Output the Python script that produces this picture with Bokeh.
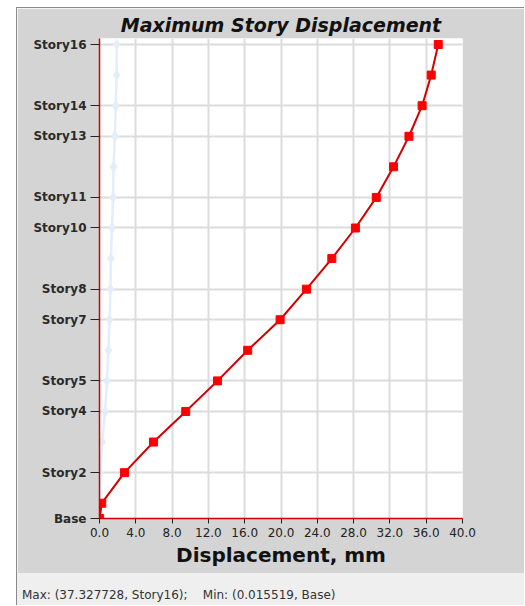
from bokeh.plotting import figure
from bokeh.models import FixedTicker, Div
from bokeh.layouts import column
from bokeh.embed import file_html
from bokeh.resources import INLINE

# ---- data ----
stories = ["Base", "Story1", "Story2", "Story3", "Story4", "Story5", "Story6", "Story7",
           "Story8", "Story9", "Story10", "Story11", "Story12", "Story13", "Story14",
           "Story15", "Story16"]
elevation = [0, 1.5, 4.5, 7.5, 10.5, 13.5, 16.5, 19.5, 22.5, 25.5, 28.5, 31.5,
             34.5, 37.5, 40.5, 43.5, 46.5]
disp_x = [0.015519, 0.25, 2.75, 5.95, 9.5, 13.0, 16.33, 19.9, 22.8, 25.6, 28.2,
          30.5, 32.4, 34.1, 35.55, 36.55, 37.327728]
disp_y = [0.0, 0.02, 0.1, 0.3, 0.62, 0.82, 0.98, 1.1, 1.2, 1.25, 1.38, 1.5, 1.55,
          1.7, 1.78, 1.88, 1.9]
label_stories = ["Base", "Story2", "Story4", "Story5", "Story7", "Story8", "Story10",
                 "Story11", "Story13", "Story14", "Story16"]
x_ticks = [0, 4, 8, 12, 16, 20, 24, 28, 32, 36, 40]
x_tick_labels = ["0.0", "4.0", "8.0", "12.0", "16.0", "20.0", "24.0", "28.0",
                 "32.0", "36.0", "40.0"]
title_text = "Maximum Story Displacement"
x_title = "Displacement, mm"
footer = "Max: (37.327728, Story16);&nbsp;&nbsp;&nbsp; Min: (0.015519, Base)"

GRAY = "#d4d4d4"
RED_LINE = "#d40000"
RED_MARK = "#ff0000"
LIGHT = "#e2effa"

y_ticks = [elevation[stories.index(s)] for s in label_stories]

p = figure(width=507, height=565, output_backend="svg", toolbar_location=None,
           x_range=(0, 40), y_range=(0, 47.09),
           min_border_left=82, min_border_right=62, min_border_top=30,
           min_border_bottom=55)
p.background_fill_color = "white"
p.border_fill_color = GRAY
p.outline_line_color = None
p.margin = 0

p.title.text = title_text
p.title.align = "center"
p.title.text_font = "DejaVu Sans"
p.title.text_font_size = "19px"
p.title.text_font_style = "bold italic"
p.title.text_color = "#111111"
p.title.standoff = 5

# axes
xa = p.xaxis[0]
xa.ticker = FixedTicker(ticks=x_ticks)
xa.major_label_overrides = {t: l for t, l in zip(x_ticks, x_tick_labels)}
xa.axis_line_color = RED_LINE
xa.axis_line_width = 1.5
xa.major_tick_line_color = "#222222"
xa.major_tick_out = 5
xa.major_tick_in = 0
xa.minor_tick_line_color = None
xa.major_label_text_font = "DejaVu Sans"
xa.major_label_text_font_size = "12px"
xa.major_label_text_color = "#222222"
xa.major_label_standoff = 4
xa.axis_label = x_title
xa.axis_label_text_font = "DejaVu Sans"
xa.axis_label_text_font_size = "20px"
xa.axis_label_text_font_style = "bold"
xa.axis_label_text_color = "#111111"
xa.axis_label_standoff = 3

ya = p.yaxis[0]
ya.ticker = FixedTicker(ticks=y_ticks)
ya.major_label_overrides = {t: l for t, l in zip(y_ticks, label_stories)}
ya.axis_line_color = RED_LINE
ya.axis_line_width = 1.5
ya.major_tick_line_color = "#222222"
ya.major_tick_out = 9
ya.major_tick_in = 0
ya.minor_tick_line_color = None
ya.major_label_text_font = "DejaVu Sans"
ya.major_label_text_font_size = "12px"
ya.major_label_text_font_style = "bold"
ya.major_label_text_color = "#2a2a2a"
ya.major_label_standoff = 4

p.xgrid.ticker = FixedTicker(ticks=x_ticks)
p.ygrid.ticker = FixedTicker(ticks=y_ticks)
p.grid.grid_line_color = "#dcdcdc"
p.grid.grid_line_width = 2

# series
p.line(disp_y, elevation, line_color=LIGHT, line_width=2.5)
p.scatter(disp_y, elevation, marker="diamond", size=10, fill_color=LIGHT,
          line_color=LIGHT)
p.line(disp_x, elevation, line_color=RED_LINE, line_width=2)
p.scatter(disp_x, elevation, marker="square", size=8, fill_color=RED_MARK,
          line_color=RED_MARK)

d = Div(text='<div style="padding:15px 0 0 5px;font-family:\'DejaVu Sans\';'
             'font-size:12px;line-height:14px;color:#333;white-space:nowrap">'
             + footer + '</div>',
        width=507, height=32, margin=0,
        styles={"background-color": "#efefef"})

layout = column(p, d, margin=(7, 0, 0, 16), spacing=0,
                styles={"border-left": "1px solid #8a8a8a",
                        "border-top": "1px solid #8a8a8a"})

open("out.html", "w").write(file_html(layout, INLINE))
